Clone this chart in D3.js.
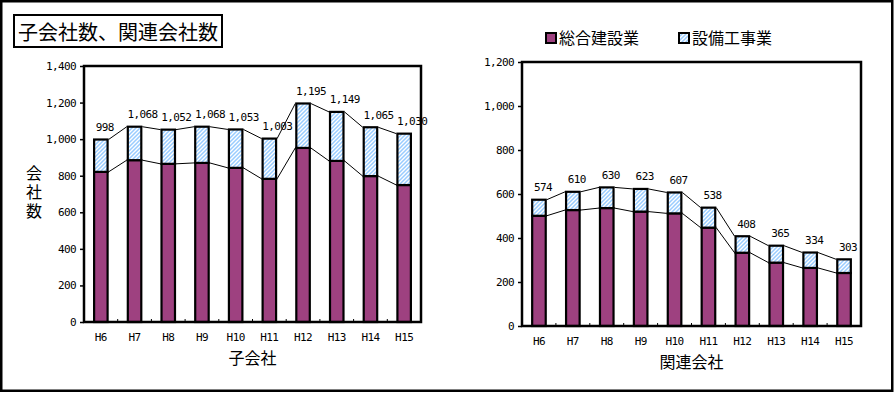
<!DOCTYPE html>
<html>
<head>
<meta charset="utf-8">
<script src="https://cdn.jsdelivr.net/npm/d3@7"></script>
<style>
  html, body { margin: 0; padding: 0; background: #fff; }
  svg { display: block; }
  .num { font-family: "DejaVu Sans Mono", monospace; font-size: 11px; letter-spacing: -0.6px; fill: #000; }
  .jp { font-family: "Noto Sans CJK JP", sans-serif; fill: #000; }
</style>
</head>
<body>
<svg id="chart" width="896" height="393"></svg>
<script>
// ---------- data ----------
const categories = ["H6","H7","H8","H9","H10","H11","H12","H13","H14","H15"];
const seriesNames = ["総合建設業","設備工事業"];
// 子会社
const subGeneral   = [821, 885, 865, 870, 843, 783, 952, 881, 798, 749];
const subEquipment = [177, 183, 187, 198, 210, 220, 243, 268, 267, 281];
// 関連会社
const affGeneral   = [501, 527, 536, 520, 512, 447, 333, 288, 264, 241];
const affEquipment = [ 73,  83,  94, 103,  95,  91,  75,  77,  70,  62];
const subTicks = [0, 200, 400, 600, 800, 1000, 1200, 1400];
const affTicks = [0, 200, 400, 600, 800, 1000, 1200];
const titleText = "子会社数、関連会社数";
const yTitle = "会社数";

const purple = "#9E4180";
const hatchBlue = "#99CCFF";

const svg = d3.select("#chart");
const defs = svg.append("defs");
const pat = defs.append("pattern").attr("id", "hatch").attr("patternUnits", "userSpaceOnUse")
  .attr("width", 4).attr("height", 4);
pat.append("rect").attr("width", 4).attr("height", 4).attr("fill", "#fff");
pat.append("path").attr("d", "M-1,1 l2,-2 M0,4 l4,-4 M3,5 l2,-2")
  .attr("stroke", hatchBlue).attr("stroke-width", 1.5);

// outer frame
svg.append("rect").attr("x", 1.25).attr("y", 1.25).attr("width", 891).attr("height", 389.5)
  .attr("fill", "none").attr("stroke", "#000").attr("stroke-width", 2.5);

// title box
svg.append("rect").attr("x", 14).attr("y", 15).attr("width", 208).attr("height", 32)
  .attr("fill", "#fff").attr("stroke", "#000").attr("stroke-width", 2);
svg.append("text").attr("class", "jp").attr("x", 18).attr("y", 39.5)
  .style("font-size", "20px").text(titleText);

// legend
const legendX = [546, 679];
seriesNames.forEach((name, i) => {
  svg.append("rect").attr("x", legendX[i]).attr("y", 33).attr("width", 10).attr("height", 10)
    .attr("fill", i === 0 ? purple : "url(#hatch)").attr("stroke", "#000").attr("stroke-width", 2);
  svg.append("text").attr("class", "jp").attr("x", legendX[i] + 13).attr("y", 43.5)
    .style("font-size", "16px").text(name);
});

function drawChart(cfg) {
  const g = svg.append("g");
  const x = d3.scaleBand().domain(categories).range([cfg.left, cfg.right])
    .paddingInner(0.6).paddingOuter(0.3);
  const y = d3.scaleLinear().domain([0, cfg.max]).range([cfg.bottom, cfg.top]);
  const step = x.step();

  const data = categories.map((c, i) => ({
    c, g: cfg.general[i], e: cfg.equipment[i], t: cfg.general[i] + cfg.equipment[i]
  }));

  // y axis ticks
  const yAxis = d3.axisLeft(y).tickValues(cfg.ticks).tickSize(4).tickPadding(4)
    .tickFormat(d3.format(","));
  const ya = g.append("g").attr("transform", `translate(${cfg.left},0)`).call(yAxis);
  ya.select(".domain").remove();
  ya.selectAll("line").attr("stroke", "#000").attr("stroke-width", 1.5);
  ya.selectAll("text").attr("class", "num").attr("font-family", null).attr("font-size", null);

  // x axis labels
  const xAxis = d3.axisBottom(x).tickSize(0).tickPadding(0);
  const xa = g.append("g").attr("transform", `translate(0,${cfg.bottom})`).call(xAxis);
  xa.select(".domain").remove();
  xa.selectAll("text").attr("class", "num").attr("font-family", null).attr("font-size", null)
    .attr("dy", null).attr("y", 19);

  // inner ticks at band boundaries
  g.selectAll(".xt").data(categories.slice(0, -1)).enter().append("line")
    .attr("x1", d => x(d) + x.bandwidth() + step * 0.3)
    .attr("x2", d => x(d) + x.bandwidth() + step * 0.3)
    .attr("y1", cfg.bottom).attr("y2", cfg.bottom - 3)
    .attr("stroke", "#000").attr("stroke-width", 1);

  // bars
  const bars = g.selectAll(".bar").data(data).enter().append("g");
  bars.append("rect").attr("x", d => x(d.c)).attr("width", x.bandwidth())
    .attr("y", d => y(d.g)).attr("height", d => y(0) - y(d.g))
    .attr("fill", purple).attr("stroke", "#000").attr("stroke-width", 2.2);
  bars.append("rect").attr("x", d => x(d.c)).attr("width", x.bandwidth())
    .attr("y", d => y(d.t)).attr("height", d => y(d.g) - y(d.t))
    .attr("fill", "url(#hatch)").attr("stroke", "#000").attr("stroke-width", 2.2);

  // series lines
  const pairs = d3.pairs(data);
  ["g", "t"].forEach(k => {
    g.selectAll(".sl" + k).data(pairs).enter().append("line")
      .attr("x1", d => x(d[0].c) + x.bandwidth() + 1).attr("y1", d => y(d[0][k]))
      .attr("x2", d => x(d[1].c) - 1).attr("y2", d => y(d[1][k]))
      .attr("stroke", "#000").attr("stroke-width", 1);
  });

  // value labels
  const fmt = d3.format(",");
  g.selectAll(".vl").data(data).enter().append("text").attr("class", "num")
    .attr("text-anchor", "middle")
    .attr("x", d => x(d.c) + x.bandwidth() / 2 + (fmt(d.t).length > 3 ? 8 : 4))
    .attr("y", d => y(d.t) - 8.5)
    .text(d => fmt(d.t));

  // plot frame
  g.append("rect").attr("x", cfg.left).attr("y", cfg.top)
    .attr("width", cfg.right - cfg.left).attr("height", cfg.bottom - cfg.top)
    .attr("fill", "none").attr("stroke", "#000").attr("stroke-width", 2.5);

  // x title
  g.append("text").attr("class", "jp").attr("text-anchor", "middle")
    .attr("x", (cfg.left + cfg.right) / 2).attr("y", cfg.bottom + 42)
    .style("font-size", "16px").text(cfg.xTitle);
}

drawChart({ left: 84, right: 421, top: 66, bottom: 322, max: 1400, ticks: subTicks,
  general: subGeneral, equipment: subEquipment, xTitle: "子会社" });
drawChart({ left: 522, right: 861, top: 62, bottom: 326, max: 1200, ticks: affTicks,
  general: affGeneral, equipment: affEquipment, xTitle: "関連会社" });

// y title (vertical, single text element)
svg.append("text").attr("class", "jp")
  .attr("x", 34).attr("y", 193)
  .attr("text-anchor", "middle")
  .style("writing-mode", "vertical-rl")
  .style("letter-spacing", "3px")
  .style("font-size", "16px").text(yTitle);
</script>
</body>
</html>
